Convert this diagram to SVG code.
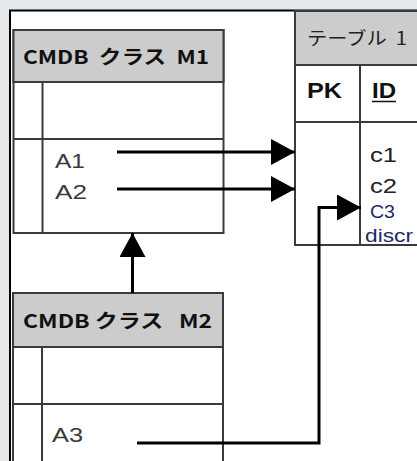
<svg xmlns="http://www.w3.org/2000/svg" width="417" height="461" viewBox="0 0 417 461">
<defs>
<style>
.box{fill:#ffffff;stroke:#3a3a3a;stroke-width:2}
.hdr{fill:#cccccc;stroke:#3a3a3a;stroke-width:2}
.ln{stroke:#3a3a3a;stroke-width:2;fill:none}
.conn{stroke:#000;stroke-width:3;fill:none}
.title{font-family:"Noto Sans CJK JP","DejaVu Sans",sans-serif;font-weight:bold;font-size:19px;fill:#111}
.tname{font-family:"Noto Sans CJK JP","DejaVu Sans",sans-serif;font-size:18px;fill:#222}
.attr{font-family:"Liberation Sans",Arial,sans-serif;font-size:21px;fill:#3a3a3a}
.col{font-family:"Liberation Sans",Arial,sans-serif;font-size:20px;fill:#222}
.colb{font-family:"Liberation Sans",Arial,sans-serif;font-size:22px;font-weight:bold;fill:#111}
.blue{font-family:"Liberation Sans",Arial,sans-serif;font-size:18px;fill:#1e2a66}
</style>
<marker id="ah" viewBox="0 0 24 26" refX="24" refY="13" markerWidth="24" markerHeight="26" markerUnits="userSpaceOnUse" orient="auto">
<path d="M0,0 L24,13 L0,26 z" fill="#000"/>
</marker>
</defs>
<rect x="0" y="0" width="417" height="461" fill="#e4e8ea"/>
<rect x="10" y="10.5" width="420" height="460" fill="#ffffff" stroke="#000" stroke-width="2"/>

<g id="table1">
<rect x="295" y="11" width="140" height="234" class="box"/>
<rect x="295" y="11" width="140" height="54" class="hdr"/>
<line x1="295" y1="122" x2="417" y2="122" class="ln"/>
<line x1="360" y1="65" x2="360" y2="245" class="ln"/>
<text x="307" y="45" class="tname" xml:space="preserve" textLength="100" lengthAdjust="spacingAndGlyphs">テーブル  1</text>
<text x="307" y="98" class="colb" textLength="35" lengthAdjust="spacingAndGlyphs">PK</text>
<text x="372" y="98" class="colb" textLength="24" lengthAdjust="spacingAndGlyphs">ID</text>
<line x1="372" y1="101.5" x2="396" y2="101.5" stroke="#111" stroke-width="1.5"/>
<text x="370" y="162" class="col" textLength="27" lengthAdjust="spacingAndGlyphs">c1</text>
<text x="370" y="193" class="col" textLength="27" lengthAdjust="spacingAndGlyphs">c2</text>
<text x="370" y="218" class="blue" textLength="25" lengthAdjust="spacingAndGlyphs">C3</text>
<text x="365" y="242" class="blue" textLength="48" lengthAdjust="spacingAndGlyphs">discr</text>
</g>

<g id="m1">
<rect x="13.5" y="30" width="210" height="203" class="box"/>
<rect x="13.5" y="30" width="210" height="52" class="hdr"/>
<line x1="42.5" y1="82" x2="42.5" y2="233" class="ln"/>
<line x1="13.5" y1="139" x2="223.5" y2="139" class="ln"/>
<text x="23" y="64" class="title" xml:space="preserve" textLength="186" lengthAdjust="spacingAndGlyphs">CMDB  クラス  M1</text>
<text x="55" y="168" class="attr" textLength="30" lengthAdjust="spacingAndGlyphs">A1</text>
<text x="55" y="199" class="attr" textLength="32" lengthAdjust="spacingAndGlyphs">A2</text>
</g>

<g id="m2">
<rect x="13" y="293" width="210" height="190" class="box"/>
<rect x="13" y="293" width="210" height="54" class="hdr"/>
<line x1="42" y1="347" x2="42" y2="470" class="ln"/>
<line x1="13" y1="404" x2="223" y2="404" class="ln"/>
<text x="23" y="328" class="title" xml:space="preserve" textLength="189" lengthAdjust="spacingAndGlyphs">CMDB クラス   M2</text>
<text x="52" y="442" class="attr" textLength="31" lengthAdjust="spacingAndGlyphs">A3</text>
</g>

<g id="connectors">
<line x1="117" y1="152" x2="295" y2="152" class="conn" marker-end="url(#ah)"/>
<line x1="117" y1="189" x2="295" y2="189" class="conn" marker-end="url(#ah)"/>
<polyline points="137,443 319,443 319,207.5 361,207.5" class="conn" marker-end="url(#ah)"/>
<line x1="132.5" y1="293" x2="132.5" y2="233" class="conn" marker-end="url(#ah)"/>
</g>
</svg>
